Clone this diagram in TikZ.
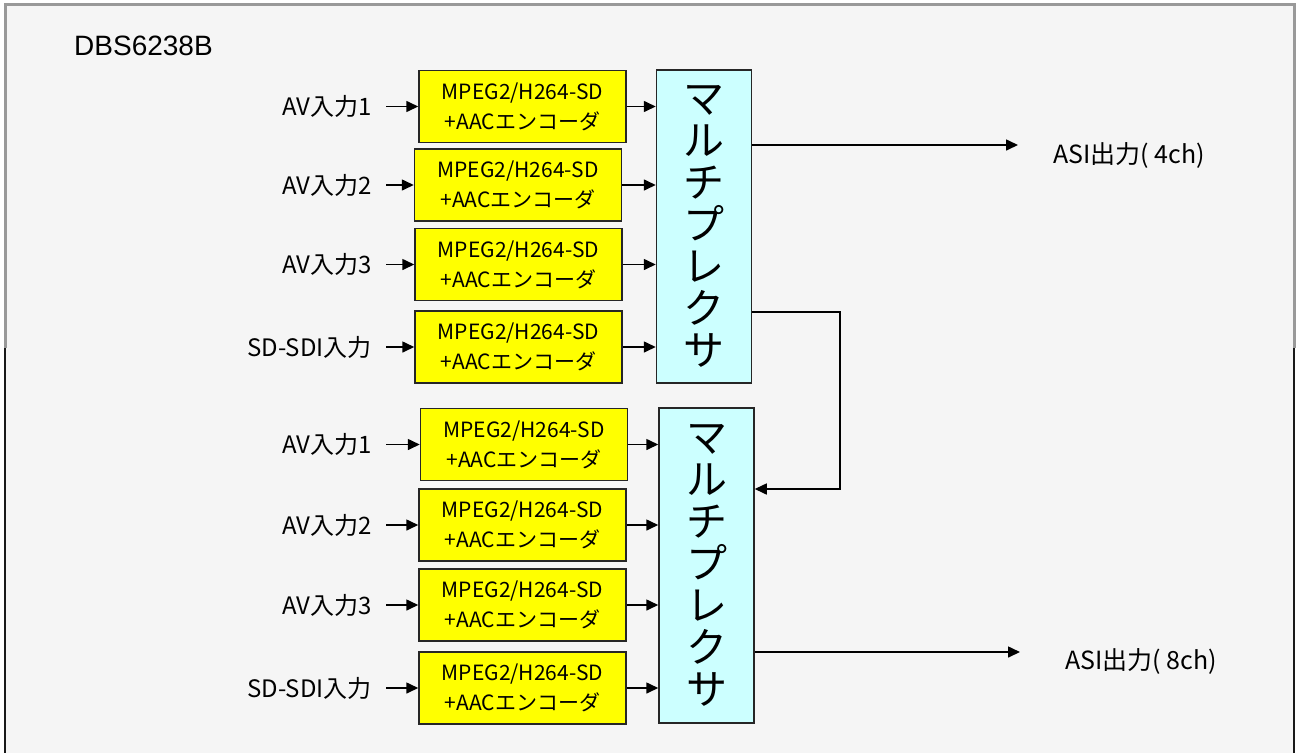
\documentclass[tikz,border=0pt]{standalone}
\usepackage{fontspec}
\setmainfont{Noto Sans CJK JP}
\newfontfamily\titlefont{Liberation Sans}
\usepackage{tikz}
\usetikzlibrary{arrows.meta}
\definecolor{encyellow}{HTML}{FFFF00}
\definecolor{muxcyan}{HTML}{CCFFFF}
\definecolor{panelbg}{HTML}{F5F5F5}
\tikzset{
	enc/.style={draw=black!85, line width=1.5pt, fill=encyellow, minimum width=207pt, minimum height=72pt, inner sep=0pt, align=center, font=\fontsize{21}{30}\selectfont},
	mux/.style={draw=black!85, line width=1.5pt, fill=muxcyan, minimum width=95pt, inner sep=0pt, align=center, font=\fontsize{41}{42}\selectfont},
	inlab/.style={anchor=east, inner xsep=14pt, font=\fontsize{24}{26}\selectfont},
	outlab/.style={anchor=west, inner sep=0pt, font=\fontsize{25}{27}\selectfont},
	arr/.style={line width=1.6pt, -{Triangle[length=12pt,width=11pt]}}
}

\begin{document}
\begin{tikzpicture}[x=1pt,y=-1pt]
	\useasboundingbox (0,0) rectangle (1296,753);
	\fill[panelbg] (5,4) rectangle (1294,753);
	\draw[black!40, line width=3pt] (5,348) -- (5,4) -- (1294,4) -- (1294,348);
	\draw[black!90, line width=2.5pt] (5,348) -- (5,753) (1294,348) -- (1294,753);
	\node[anchor=west, inner sep=0pt, font=\titlefont\fontsize{28}{30}\selectfont] (title) at (74,46) {DBS6238B};
	
	\node[mux, minimum height=313pt] (mux1) at (704,226.5) {マ\\ル\\チ\\プ\\レ\\ク\\サ};
	\node[mux, minimum height=315pt] (mux2) at (706.5,565.5) {マ\\ル\\チ\\プ\\レ\\ク\\サ};
	
	\foreach \n/\cx/\cy/\lab/\m in {1/522.5/106.5/AV入力1/1, 2/518/185/AV入力2/1, 3/518.5/264.5/AV入力3/1, 4/518.5/347/SD-SDI入力/1,
		5/524/444.5/AV入力1/2, 6/522.5/525/AV入力2/2, 7/522.5/605/AV入力3/2, 8/522.5/688/SD-SDI入力/2}
	{
		\node[enc] (enc\n) at (\cx,\cy) {MPEG2/H264-SD\\+AACエンコーダ};
		\node[inlab] (in\n) at (386,\cy) {\lab};
		\path[arr] (in\n) edge (enc\n)
		(enc\n.east) edge (enc\n.east -| mux\m.west);
	}
	
	\coordinate (asi1) at (1018,145);
	\coordinate (asi2) at (1020,652);
	\node[outlab] (out1) at (1053,155) {ASI出力( 4ch)};
	\node[outlab] (out2) at (1065,661) {ASI出力( 8ch)};
	\path[arr] (mux1.east |- asi1) edge (asi1)
	(mux2.east |- asi2) edge (asi2);
	
	\coordinate (fb1) at (840,312);
	\coordinate (fb2) at (840,489);
	\draw[arr] (mux1.east |- fb1) -- (fb1) -- (fb2) -- (fb2 -| mux2.east);
\end{tikzpicture}
\end{document}
